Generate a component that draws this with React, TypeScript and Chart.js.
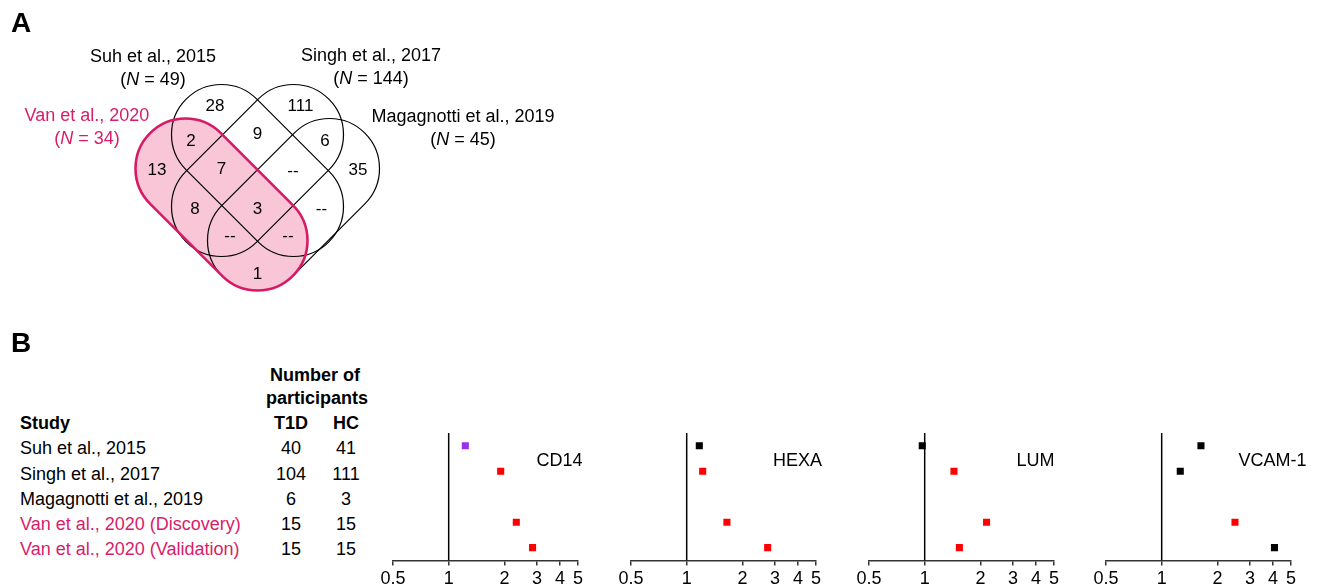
import React, { useEffect, useRef } from "react";
import { Chart, registerables } from "chart.js";

Chart.register(...registerables);

const FONT = "'Liberation Sans', Arial, Helvetica, sans-serif";
const PINK_TEXT = "#d81d68";
const PINK_FILL = "#f8c6d7";
const PINK_LINE = "#d81a66";

// ---------------- Panel A data ----------------
const vennSetNames = ["Suh et al., 2015", "Singh et al., 2017", "Magagnotti et al., 2019", "Van et al., 2020"];
const vennSetSizes = [49, 144, 45, 34];
// regions: Van only, Suh only, Singh only, Magagnotti only, Van+Suh, Suh+Singh, Singh+Mag,
// Van+Suh+Singh, Suh+Singh+Mag, Van+Singh, all four, Suh+Mag, Van+Singh+Mag, Van+Suh+Mag, Van+Mag
const vennRegionCounts = ["13", "28", "111", "35", "2", "9", "6", "7", "--", "8", "3", "--", "--", "--", "1"];

// ---------------- Panel B data ----------------
const studies = [
  "Suh et al., 2015",
  "Singh et al., 2017",
  "Magagnotti et al., 2019",
  "Van et al., 2020 (Discovery)",
  "Van et al., 2020 (Validation)",
];
const ownStudy = [false, false, false, true, true];
const t1dCounts = [40, 104, 6, 15, 15];
const hcCounts = [41, 111, 3, 15, 15];
const proteins = ["CD14", "HEXA", "LUM", "VCAM-1"];
const cd14Fold = [1.23, 1.91, null, 2.32, 2.84];
const hexaFold = [1.17, 1.22, null, 1.65, 2.74];
const lumFold = [0.97, 1.44, null, 2.16, 1.54];
const vcamFold = [1.63, 1.26, null, 2.49, 4.07];
const cd14Status = ["mixed", "sig", "", "sig", "sig"];
const hexaStatus = ["ns", "sig", "", "sig", "sig"];
const lumStatus = ["ns", "sig", "", "sig", "sig"];
const vcamStatus = ["ns", "ns", "", "sig", "ns"];
const foldTicks = [0.5, 1, 2, 3, 4, 5];

const foldByProtein = [cd14Fold, hexaFold, lumFold, vcamFold];
const statusByProtein = [cd14Status, hexaStatus, lumStatus, vcamStatus];
const statusColor: Record<string, string> = { sig: "#ff0000", ns: "#000000", mixed: "#9b30e6" };

// ---------------- Layout (positions / sizes) ----------------
const VENN_W = 600;
const VENN_H = 310;
const VENN_UNIT = 50; // px per unit (capsule radius = 1 unit)
const VENN_ORIGIN_X = 257.5;
const VENN_ORIGIN_Y = 204.5;
const CAP_HALF = 0.72;
// order matches vennSetNames; dir 1 = "\" , dir -1 = "/"
const capsuleLayout = [
  { cx: 0, cy: 0.68, dir: 1 },
  { cx: 0, cy: 0.68, dir: -1 },
  { cx: 0.72, cy: 0, dir: -1 },
  { cx: -0.72, cy: 0, dir: 1 },
];
const regionLayout = [
  [-2.01, 0.71], [-0.85, 1.99], [0.86, 1.99], [2.01, 0.71],
  [-1.33, 1.28], [0.0, 1.42], [1.35, 1.28],
  [-0.72, 0.72], [0.71, 0.69], [-1.25, -0.08], [0.0, -0.08], [1.28, -0.08],
  [-0.55, -0.61], [0.61, -0.61], [0.0, -1.38],
];
const setLabelLayout = [
  [153, 56],
  [371, 55],
  [463, 116],
  [87, 115],
];
const panelLeft = [393, 631, 869, 1106];
const PANEL_W = 185;
const rowCenters = [448, 474, 499, 524, 549];

function VennChart() {
  const ref = useRef<HTMLCanvasElement>(null);
  useEffect(() => {
    const plugin = {
      id: "vennDraw",
      afterDatasetsDraw(chart: any) {
        const { ctx } = chart;
        const xs = chart.scales.x;
        const ys = chart.scales.y;
        const R = Math.abs(xs.getPixelForValue(1) - xs.getPixelForValue(0));
        const path = (c: { cx: number; cy: number; dir: number }) => {
          const ux = c.cx - c.dir * CAP_HALF;
          const uy = c.cy + CAP_HALF;
          const lx = c.cx + c.dir * CAP_HALF;
          const ly = c.cy - CAP_HALF;
          const p1x = xs.getPixelForValue(ux);
          const p1y = ys.getPixelForValue(uy);
          const p2x = xs.getPixelForValue(lx);
          const p2y = ys.getPixelForValue(ly);
          const a = Math.atan2(p2y - p1y, p2x - p1x);
          ctx.beginPath();
          ctx.arc(p1x, p1y, R, a + Math.PI / 2, a + (3 * Math.PI) / 2);
          ctx.arc(p2x, p2y, R, a - Math.PI / 2, a + Math.PI / 2);
          ctx.closePath();
        };
        ctx.save();
        // fill own study
        path(capsuleLayout[3]);
        ctx.fillStyle = PINK_FILL;
        ctx.fill();
        // black outlines
        ctx.strokeStyle = "#000";
        ctx.lineWidth = 1.2;
        for (let i = 0; i < 3; i++) {
          path(capsuleLayout[i]);
          ctx.stroke();
        }
        // pink outline
        path(capsuleLayout[3]);
        ctx.strokeStyle = PINK_LINE;
        ctx.lineWidth = 2.6;
        ctx.stroke();
        // region counts
        ctx.fillStyle = "#000";
        ctx.font = `17px ${FONT}`;
        ctx.textAlign = "center";
        ctx.textBaseline = "middle";
        vennRegionCounts.forEach((t, i) => {
          const [vx, vy] = regionLayout[i];
          ctx.fillText(t, xs.getPixelForValue(vx), ys.getPixelForValue(vy) + 1);
        });
        ctx.restore();
      },
    };
    const chart = new Chart(ref.current as HTMLCanvasElement, {
      type: "scatter",
      data: { datasets: [] },
      options: {
        animation: false,
        responsive: false,
        layout: { padding: 0 },
        plugins: { legend: { display: false }, tooltip: { enabled: false } },
        scales: {
          x: { type: "linear", display: false, min: -VENN_ORIGIN_X / VENN_UNIT, max: (VENN_W - VENN_ORIGIN_X) / VENN_UNIT },
          y: { type: "linear", display: false, min: (VENN_ORIGIN_Y - VENN_H) / VENN_UNIT, max: VENN_ORIGIN_Y / VENN_UNIT },
        },
      },
      plugins: [plugin],
    } as any);
    return () => chart.destroy();
  }, []);
  return (
    <canvas
      ref={ref}
      width={VENN_W}
      height={VENN_H}
      style={{ position: "absolute", left: 0, top: 0, width: VENN_W, height: VENN_H }}
    />
  );
}

function ForestChart({ idx }: { idx: number }) {
  const ref = useRef<HTMLCanvasElement>(null);
  useEffect(() => {
    const vals = foldByProtein[idx];
    const stats = statusByProtein[idx];
    const pts: { x: number; y: number }[] = [];
    const cols: string[] = [];
    vals.forEach((v, i) => {
      if (v != null) {
        pts.push({ x: v, y: i });
        cols.push(statusColor[stats[i]]);
      }
    });
    const labelPlugin = {
      id: "proteinLabel",
      afterDatasetsDraw(chart: any) {
        const { ctx } = chart;
        ctx.save();
        ctx.fillStyle = "#000";
        ctx.font = `18px ${FONT}`;
        ctx.textAlign = "center";
        ctx.textBaseline = "middle";
        ctx.fillText(proteins[idx], chart.scales.x.getPixelForValue(3.97), chart.scales.y.getPixelForValue(0.6));
        ctx.restore();
      },
    };
    const chart = new Chart(ref.current as HTMLCanvasElement, {
      type: "scatter",
      data: {
        datasets: [
          {
            data: [{ x: 1, y: -0.5 }, { x: 1, y: 4.5 }],
            showLine: true,
            borderColor: "#000",
            borderWidth: 1.5,
            pointRadius: 0,
          },
          {
            data: pts,
            pointStyle: "rect",
            pointRadius: 5,
            pointBackgroundColor: cols,
            pointBorderWidth: 0,
            borderWidth: 0,
          },
        ],
      },
      options: {
        animation: false,
        responsive: false,
        layout: { padding: { left: 30, right: 30, top: 10, bottom: 0 } },
        plugins: { legend: { display: false }, tooltip: { enabled: false } },
        scales: {
          x: {
            type: "logarithmic",
            min: 0.5,
            max: 5,
            afterBuildTicks: (axis: any) => {
              axis.ticks = foldTicks.map((v) => ({ value: v }));
            },
            ticks: {
              autoSkip: false,
              maxRotation: 0,
              minRotation: 0,
              padding: 3,
              color: "#000",
              font: { size: 18, family: FONT },
              callback: (v: any) => String(v),
            },
            grid: { display: true, drawOnChartArea: false, drawTicks: true, tickLength: 5, color: "#333", lineWidth: 1.5 },
            border: { display: true, color: "#333", width: 1.5 },
          },
          y: { type: "linear", display: false, min: -0.5, max: 4.5, reverse: true },
        },
      },
      plugins: [labelPlugin],
    } as any);
    return () => chart.destroy();
  }, [idx]);
  return (
    <canvas
      ref={ref}
      width={PANEL_W + 60}
      height={170}
      style={{ position: "absolute", left: panelLeft[idx] - 30, top: 423, width: PANEL_W + 60, height: 170 }}
    />
  );
}

function T({ x, y, align = "left", bold = false, color = "#000", children }: any) {
  const w = 400;
  const left = align === "center" ? x - w / 2 : x;
  return (
    <div
      style={{
        position: "absolute",
        left,
        width: w,
        top: y - 11,
        height: 22,
        lineHeight: "22px",
        fontSize: 18,
        fontWeight: bold ? "bold" : "normal",
        textAlign: align,
        color,
        whiteSpace: "nowrap",
      }}
    >
      {children}
    </div>
  );
}

export default function App() {
  return (
    <div
      style={{
        position: "absolute",
        left: 0,
        top: 0,
        width: 1320,
        height: 586,
        overflow: "hidden",
        background: "#fff",
        fontFamily: FONT,
        color: "#000",
      }}
    >
      <VennChart />
      <div style={{ position: "absolute", left: 11, top: 9, fontSize: 28, lineHeight: "28px", fontWeight: "bold" }}>A</div>
      <div style={{ position: "absolute", left: 11, top: 329, fontSize: 28, lineHeight: "28px", fontWeight: "bold" }}>B</div>
      {vennSetNames.map((name, i) => {
        const [cx, cy] = setLabelLayout[i];
        const col = i === 3 ? PINK_TEXT : "#000";
        return (
          <React.Fragment key={name}>
            <T x={cx} y={cy} align="center" color={col}>{name}</T>
            <T x={cx} y={cy + 23} align="center" color={col}>
              (<i>N</i> = {vennSetSizes[i]})
            </T>
          </React.Fragment>
        );
      })}
      <T x={315} y={375} align="center" bold>Number of</T>
      <T x={317} y={398} align="center" bold>participants</T>
      <T x={20} y={423} bold>Study</T>
      <T x={291} y={423} align="center" bold>T1D</T>
      <T x={346} y={423} align="center" bold>HC</T>
      {studies.map((s, i) => (
        <React.Fragment key={s}>
          <T x={20} y={rowCenters[i]} color={ownStudy[i] ? PINK_TEXT : "#000"}>{s}</T>
          <T x={291} y={rowCenters[i]} align="center">{t1dCounts[i]}</T>
          <T x={346} y={rowCenters[i]} align="center">{hcCounts[i]}</T>
        </React.Fragment>
      ))}
      {proteins.map((p, i) => (
        <ForestChart key={p} idx={i} />
      ))}
    </div>
  );
}
